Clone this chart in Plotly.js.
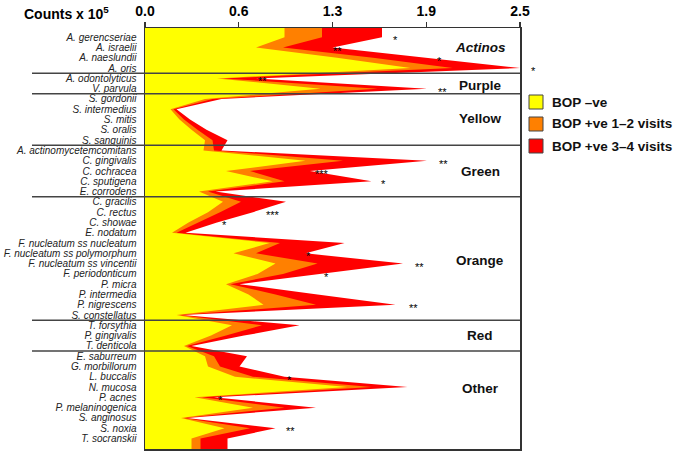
<!DOCTYPE html>
<html>
<head>
<meta charset="utf-8">
<script src="https://cdn.plot.ly/plotly-3.0.1.min.js"></script>
<style>html,body{margin:0;padding:0;background:#fff}#chart{width:675px;height:453px}</style>
</head>
<body>
<div id="chart"></div>
<script>
// ---- data ----
const species = [
  'A. gerencseriae','A. israelii','A. naeslundii','A. oris',
  'A. odontolyticus','V. parvula',
  'S. gordonii','S. intermedius','S. mitis','S. oralis','S. sanguinis',
  'A. actinomycetemcomitans','C. gingivalis','C. ochracea','C. sputigena','E. corrodens',
  'C. gracilis','C. rectus','C. showae','E. nodatum','F. nucleatum ss nucleatum',
  'F. nucleatum ss polymorphum','F. nucleatum ss vincentii','F. periodonticum','P. micra',
  'P. intermedia','P. nigrescens','S. constellatus',
  'T. forsythia','P. gingivalis','T. denticola',
  'E. saburreum','G. morbillorum','L. buccalis','N. mucosa','P. acnes',
  'P. melaninogenica','S. anginosus','S. noxia','T. socranskii'
];
const bopNeg = [0.93,0.74,1.28,1.77, 0.48,1.17, 0.40,0.17,0.23,0.31,0.40,
  0.39,1.07,0.54,0.85,0.36, 0.52,0.42,0.29,0.18,0.83,0.59,0.87,0.75,0.54,0.69,0.79,0.21,
  0.58,0.44,0.26, 0.40,0.42,0.60,1.35,0.33,0.72,0.24,0.53,0.31];
const bop12 = [1.18,0.92,1.52,2.05, 0.52,1.55, 0.45,0.19,0.26,0.35,0.45,
  0.46,1.32,0.70,0.93,0.42, 0.64,0.50,0.36,0.21,0.90,0.74,1.15,0.92,0.57,0.87,1.14,0.23,
  0.78,0.54,0.28, 0.46,0.50,0.72,1.51,0.38,0.93,0.26,0.70,0.37];
const bop34 = [1.58,1.25,1.88,2.50, 0.74,1.88, 0.51,0.21,0.30,0.41,0.55,
  0.51,1.88,1.10,1.51,0.47, 0.94,0.72,0.48,0.27,1.33,1.07,1.72,1.17,0.63,1.15,1.67,0.25,
  1.03,0.66,0.31, 0.68,0.63,0.93,1.75,0.46,1.14,0.28,0.87,0.55];
const seriesNames = ['BOP \u2013ve','BOP +ve 1\u20132 visits','BOP +ve 3\u20134 visits'];
const groupNames = ['<i>Actinos</i>','Purple','Yellow','Green','Orange','Red','Other'];
const groupSizes = [4,2,5,5,12,3,9];
const sigRows = [0,1,2,3,4,5,12,13,14,17,18,21,22,23,26,33,35,38];
const sigText = ['*','**','*','*','**','**','**','***','*','***','*','*','**','*','**','*','*','**'];
const tickVals = [0,0.625,1.25,1.875,2.5];
const tickText = ['0.0','0.6','1.3','1.9','2.5'];

// ---- presentation ----
const sigX = [1.67,1.28,1.96,2.59,0.78,1.98,1.99,1.18,1.59,0.85,0.53,1.09,1.83,1.21,1.79,0.96,0.50,0.97];
const groupLabelY = [1.0,4.7,7.9,13.0,21.7,29.0,34.1];
const colors = ['#FFFF00','#FF8000','#FF0000'];
const FONT = 'Liberation Sans, Arial, Helvetica, sans-serif';
const L = 145, R = 520, T = 28, B = 449;
const yTop = -0.9, yBot = 40.02;
const px2x = p => (p - L) / (R - L);
const py2y = p => (B - p) / (B - T);
const idx2y = v => (yBot - v) / (yBot - yTop);

const idx = species.map((_, i) => i);
const series = [bopNeg, bop12, bop34];
const traces = [];
for (let k = 2; k >= 0; k--) {
  const s = series[k];
  traces.push({
    type: 'scatter', mode: 'lines', name: seriesNames[k],
    x: [s[0]].concat(s, [s[s.length - 1]]),
    y: [-2].concat(idx, [42]),
    fill: 'tozerox', fillcolor: colors[k],
    line: {width: 0, color: colors[k]},
    hoverinfo: 'skip', showlegend: false
  });
}

const shapes = [];
const annotations = [];
// group separators and labels
let start = 0;
groupSizes.forEach((n, g) => {
  const end = start + n;
  if (g < groupSizes.length - 1) {
    const yb = idx2y(end - 0.5);
    shapes.push({type: 'line', xref: 'paper', yref: 'paper', x0: px2x(32), x1: 1, y0: yb, y1: yb,
      line: {color: '#444', width: 1.5}});
  }
  annotations.push({xref: 'paper', yref: 'paper', x: px2x(480), y: idx2y(groupLabelY[g]),
    text: '<b>' + groupNames[g] + '</b>', showarrow: false, xanchor: 'center', yanchor: 'middle',
    font: {family: FONT, size: 13.5, color: '#111'}});
  start = end;
});
// significance stars
sigRows.forEach((r, j) => {
  annotations.push({xref: 'paper', yref: 'paper', x: sigX[j] / 2.5, y: idx2y(r), yshift: -3,
    text: sigText[j], showarrow: false, xanchor: 'center', yanchor: 'middle',
    font: {family: FONT, size: 11, color: '#000'}});
});
// axis caption
annotations.push({xref: 'paper', yref: 'paper', x: px2x(66), y: py2y(13), text: '<b>Counts x 10<sup>5</sup></b>',
  showarrow: false, xanchor: 'center', yanchor: 'middle', font: {family: FONT, size: 14, color: '#000'}});
// legend
const legY = [102, 124, 146];
[0, 1, 2].forEach(k => {
  shapes.push({type: 'rect', xref: 'paper', yref: 'paper', x0: px2x(529), x1: px2x(543),
    y0: py2y(legY[k] - 7), y1: py2y(legY[k] + 7), fillcolor: colors[k], line: {color: '#444', width: 1}});
  annotations.push({xref: 'paper', yref: 'paper', x: px2x(550), y: py2y(legY[k]), text: '<b>' + seriesNames[k] + '</b>',
    showarrow: false, xanchor: 'left', yanchor: 'middle', font: {family: FONT, size: 13.5, color: '#111'}});
});

const layout = {
  width: 675, height: 453,
  margin: {l: L, r: 675 - R, t: T, b: 453 - B, pad: 0},
  paper_bgcolor: '#fff', plot_bgcolor: '#fff',
  showlegend: false, hovermode: false,
  xaxis: {side: 'top', range: [0, 2.5], tickvals: tickVals, ticktext: tickText,
    ticks: 'outside', ticklen: 5, tickwidth: 1.2, tickcolor: '#333',
    tickfont: {family: FONT, size: 14, color: '#000', weight: 'bold'},
    showline: true, mirror: true, linecolor: '#333', linewidth: 1.5,
    showgrid: false, zeroline: false, fixedrange: true},
  yaxis: {range: [yBot, yTop], tickvals: idx, ticktext: species, ticks: '',
    tickfont: {family: FONT, size: 10, color: '#222', style: 'italic'},
    ticklabelstandoff: 5,
    showline: true, mirror: true, linecolor: '#333', linewidth: 1.5,
    showgrid: false, zeroline: false, fixedrange: true},
  shapes: shapes, annotations: annotations
};
Plotly.newPlot('chart', traces, layout, {displayModeBar: false, staticPlot: true});
</script>
</body>
</html>
